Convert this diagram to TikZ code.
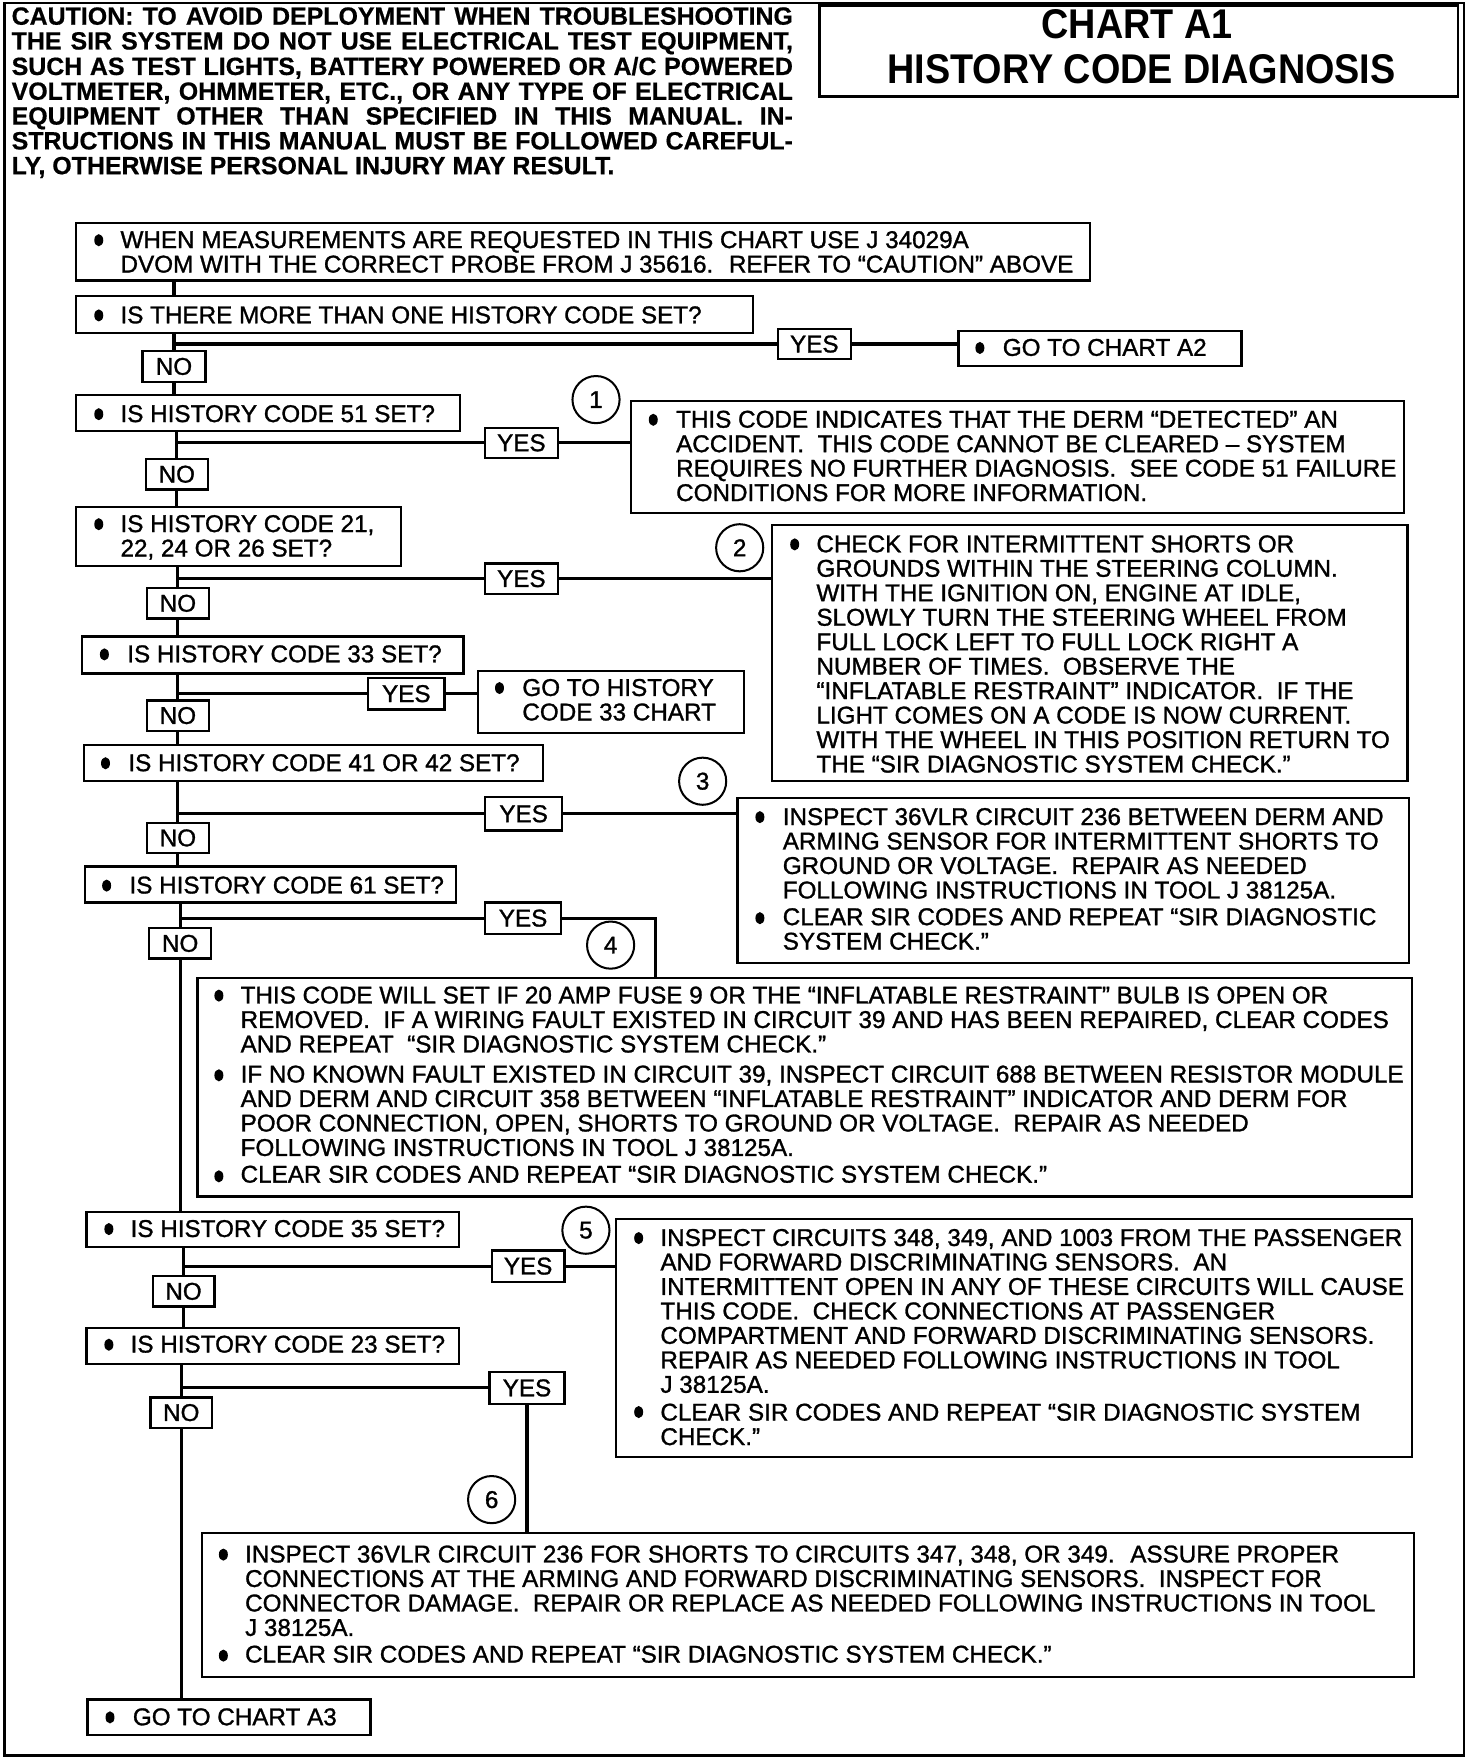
\documentclass[tikz,border=0pt]{standalone}
\usepackage{fontspec}
\usepackage{graphicx}
\setmainfont{Liberation Sans}
\newfontfamily\bodyf{Liberation Sans}[FakeBold=1.2]
\newfontfamily\cautf{Liberation Sans}[FakeBold=0.6]
\newfontfamily\titlef{Liberation Sans}[FakeStretch=0.91]
\newcommand\bodysize{\fontsize{10.8}{10.9}\selectfont}
\newcommand\tl[1]{\begin{tabular}[t]{@{}l@{}}#1\end{tabular}}
\newcommand\cl[1]{\makebox[348pt][s]{#1}}
\newcommand\bx[6]{\node[boxst, minimum width={(#4-#2)*0.5pt}, minimum height={(#5-#3)*0.5pt}] (#1) at ({(#2+#4)/2},{(#3+#5)/2}) {#6};}
\newcommand\bull[2]{\fill (#1,#2) ellipse [x radius=2pt, y radius=2.7pt];}
\tikzset{
  boxst/.style={draw, line width=1pt, fill=white, inner sep=0pt, rectangle, font=\bodyf\bodysize},
  conn/.style={line width=1.4pt},
  txt/.style={inner sep=0pt, anchor=base west, align=left, font=\bodyf\bodysize},
  numcirc/.style={circle, draw, line width=0.9pt, minimum size=21pt, inner sep=0pt, fill=white, font=\bodyf\bodysize},
  outerframe/.style={line width=1pt},
}
\begin{document}
\begin{tikzpicture}[x=0.5pt,y=-0.5pt]
\useasboundingbox (0,0) rectangle (1311,1568);
\draw[outerframe] (4,3) rectangle (1304,1564);

% caution
\node[inner sep=0pt, anchor=base west, align=left, font=\cautf\bfseries\fontsize{11.1}{11}\selectfont] (caution) at (10,22) {\tl{%
\cl{CAUTION: TO AVOID DEPLOYMENT WHEN TROUBLESHOOTING}\\
\cl{THE SIR SYSTEM DO NOT USE ELECTRICAL TEST EQUIPMENT,}\\
\cl{SUCH AS TEST LIGHTS, BATTERY POWERED OR A/C POWERED}\\
\cl{VOLTMETER, OHMMETER, ETC., OR ANY TYPE OF ELECTRICAL}\\
\cl{EQUIPMENT OTHER THAN SPECIFIED IN THIS MANUAL. IN-}\\
\cl{STRUCTIONS IN THIS MANUAL MUST BE FOLLOWED CAREFUL-}\\
LY, OTHERWISE PERSONAL INJURY MAY RESULT.}};

% title
\bx{titlebox}{730}{5}{1299}{86}{}
\node[inner sep=0pt, font=\titlef\bfseries\fontsize{18.5}{19}\selectfont] (title1) at (1013,22) {CHART A1};
\node[inner sep=0pt, font=\titlef\bfseries\fontsize{18.5}{19}\selectfont] (title2) at (1017,62) {HISTORY CODE DIAGNOSIS};

% boxes
\bx{b0}{68}{199}{971}{250}{}
\node[txt] (t0) at (107,221) {\tl{WHEN MEASUREMENTS ARE REQUESTED IN THIS CHART USE J 34029A\\DVOM WITH THE CORRECT PROBE FROM J 35616.~ REFER TO “CAUTION” ABOVE}};

\bx{q1}{68}{264}{671}{297}{}
\node[txt] (tq1) at (107,288) {IS THERE MORE THAN ONE HISTORY CODE SET?};
\bx{yes1}{693}{293}{758}{320}{YES}
\bx{a2}{854}{295}{1106}{326}{}
\node[txt] (ta2) at (893,317) {GO TO CHART A2};
\bx{no1}{127}{313}{183}{340}{NO}

\bx{q2}{68}{352}{410}{384}{}
\node[txt] (tq2) at (107,376) {IS HISTORY CODE 51 SET?};
\bx{yes2}{432}{381}{497}{408}{YES}
\node[numcirc] (c1) at (531,356) {1};
\bx{a51}{562}{357}{1251}{457}{}
\node[txt] (ta51) at (602,381) {\tl{THIS CODE INDICATES THAT THE DERM “DETECTED” AN\\
ACCIDENT.~ THIS CODE CANNOT BE CLEARED – SYSTEM\\
REQUIRES NO FURTHER DIAGNOSIS.~ SEE CODE 51 FAILURE\\
CONDITIONS FOR MORE INFORMATION.}};
\bx{no2}{130}{409}{185}{436}{NO}

\bx{q3}{68}{452}{357}{504}{}
\node[txt] (tq3) at (107,474) {\tl{IS HISTORY CODE 21,\\22, 24 OR 26 SET?}};
\bx{yes3}{432}{502}{497}{529}{YES}
\node[numcirc] (c2) at (659,488) {2};
\bx{a2x}{688}{468}{1254}{696}{}
\node[txt] (ta2x) at (727,492) {\tl{CHECK FOR INTERMITTENT SHORTS OR\\
GROUNDS WITHIN THE STEERING COLUMN.\\
WITH THE IGNITION ON, ENGINE AT IDLE,\\
SLOWLY TURN THE STEERING WHEEL FROM\\
FULL LOCK LEFT TO FULL LOCK RIGHT A\\
NUMBER OF TIMES.~ OBSERVE THE\\
“INFLATABLE RESTRAINT” INDICATOR.~ IF THE\\
LIGHT COMES ON A CODE IS NOW CURRENT.\\
WITH THE WHEEL IN THIS POSITION RETURN TO\\
THE “SIR DIAGNOSTIC SYSTEM CHECK.”}};
\bx{no3}{131}{524}{186}{551}{NO}

\bx{q4}{73}{567}{413}{600}{}
\node[txt] (tq4) at (113,590) {IS HISTORY CODE 33 SET?};
\bx{yes4}{328}{604}{396}{632}{YES}
\bx{a33}{426}{598}{663}{653}{}
\node[txt] (ta33) at (465,620) {\tl{GO TO HISTORY\\CODE 33 CHART}};
\bx{no4}{131}{624}{186}{651}{NO}

\bx{q5}{75}{664}{484}{696}{}
\node[txt] (tq5) at (114,687) {IS HISTORY CODE 41 OR 42 SET?};
\bx{yes5}{432}{710}{501}{740}{YES}
\node[numcirc] (c3) at (626,696) {3};
\bx{a41}{657}{711}{1255}{858}{}
\node[txt] (ta41) at (697,735) {\tl{INSPECT 36VLR CIRCUIT 236 BETWEEN DERM AND\\
ARMING SENSOR FOR INTERMITTENT SHORTS TO\\
GROUND OR VOLTAGE.~ REPAIR AS NEEDED\\
FOLLOWING INSTRUCTIONS IN TOOL J 38125A.\\[1pt]
CLEAR SIR CODES AND REPEAT “SIR DIAGNOSTIC\\
SYSTEM CHECK.”}};
\bx{no5}{131}{733}{186}{760}{NO}

\bx{q6}{76}{772}{406}{804}{}
\node[txt] (tq6) at (115,796) {IS HISTORY CODE 61 SET?};
\bx{yes6}{432}{804}{500}{832}{YES}
\coordinate (k6) at (584,818);
\node[numcirc] (c4) at (544,842) {4};
\bx{no6}{133}{827}{188}{854}{NO}
\bx{a61}{176}{871}{1258}{1066}{}
\node[txt] (ta61) at (214,894) {\tl{THIS CODE WILL SET IF 20 AMP FUSE 9 OR THE “INFLATABLE RESTRAINT” BULB IS OPEN OR\\
REMOVED.~ IF A WIRING FAULT EXISTED IN CIRCUIT 39 AND HAS BEEN REPAIRED, CLEAR CODES\\
AND REPEAT~ “SIR DIAGNOSTIC SYSTEM CHECK.”\\[2.5pt]
IF NO KNOWN FAULT EXISTED IN CIRCUIT 39, INSPECT CIRCUIT 688 BETWEEN RESISTOR MODULE\\
AND DERM AND CIRCUIT 358 BETWEEN “INFLATABLE RESTRAINT” INDICATOR AND DERM FOR\\
POOR CONNECTION, OPEN, SHORTS TO GROUND OR VOLTAGE.~ REPAIR AS NEEDED\\
FOLLOWING INSTRUCTIONS IN TOOL J 38125A.\\[1pt]
CLEAR SIR CODES AND REPEAT “SIR DIAGNOSTIC SYSTEM CHECK.”}};

\bx{q7}{77}{1080}{409}{1111}{}
\node[txt] (tq7) at (116,1102) {IS HISTORY CODE 35 SET?};
\bx{yes7}{438}{1114}{503}{1142}{YES}
\node[numcirc] (c5) at (522,1096) {5};
\bx{a35}{549}{1086}{1258}{1298}{}
\node[txt] (ta35) at (588,1110) {\tl{INSPECT CIRCUITS 348, 349, AND 1003 FROM THE PASSENGER\\
AND FORWARD DISCRIMINATING SENSORS.~ AN\\
INTERMITTENT OPEN IN ANY OF THESE CIRCUITS WILL CAUSE\\
THIS CODE.~ CHECK CONNECTIONS AT PASSENGER\\
COMPARTMENT AND FORWARD DISCRIMINATING SENSORS.\\
REPAIR AS NEEDED FOLLOWING INSTRUCTIONS IN TOOL\\
J 38125A.\\[1.5pt]
CLEAR SIR CODES AND REPEAT “SIR DIAGNOSTIC SYSTEM\\
CHECK.”}};
\bx{no7}{136}{1137}{191}{1164}{NO}

\bx{q8}{77}{1183}{409}{1215}{}
\node[txt] (tq8) at (116,1205) {IS HISTORY CODE 23 SET?};
\bx{yes8}{436}{1222}{503}{1251}{YES}
\node[numcirc] (c6) at (438,1336) {6};
\bx{no8}{134}{1245}{189}{1272}{NO}
\bx{a23}{180}{1366}{1260}{1494}{}
\node[txt] (ta23) at (218,1392) {\tl{INSPECT 36VLR CIRCUIT 236 FOR SHORTS TO CIRCUITS 347, 348, OR 349.~ ASSURE PROPER\\
CONNECTIONS AT THE ARMING AND FORWARD DISCRIMINATING SENSORS.~ INSPECT FOR\\
CONNECTOR DAMAGE.~ REPAIR OR REPLACE AS NEEDED FOLLOWING INSTRUCTIONS IN TOOL\\
J 38125A.\\[1pt]
CLEAR SIR CODES AND REPEAT “SIR DIAGNOSTIC SYSTEM CHECK.”}};

\bx{a3}{78}{1514}{330}{1546}{}
\node[txt] (ta3) at (118,1537) {GO TO CHART A3};

% bullets
\bull{88}{214}
\bull{88}{281}
\bull{873}{310}
\bull{88}{369}
\bull{582}{374}
\bull{88}{467}
\bull{708}{485}
\bull{93}{583}
\bull{445}{613}
\bull{94}{680}
\bull{677}{728}
\bull{677}{818}
\bull{95}{789}
\bull{195}{887}
\bull{195}{958}
\bull{195}{1048}
\bull{97}{1095}
\bull{569}{1103}
\bull{569}{1258}
\bull{97}{1198}
\bull{199}{1385}
\bull{199}{1475}
\bull{98}{1530}

% connectors
\draw[conn] (b0.south -| no1) -- (q1.north -| no1);
\draw[conn] (q1.south -| no1) -- (no1.north);
\draw[conn] (no1 |- yes1) -- (yes1.west);
\draw[conn] (yes1.east) -- (a2.west |- yes1);
\draw[conn] (no1.south) -- (q2.north -| no1);

\draw[conn] (q2.south -| no2) -- (no2.north);
\draw[conn] (no2 |- yes2) -- (yes2.west);
\draw[conn] (yes2.east) -- (a51.west |- yes2);
\draw[conn] (no2.south) -- (q3.north -| no2);

\draw[conn] (q3.south -| no3) -- (no3.north);
\draw[conn] (no3 |- yes3) -- (yes3.west);
\draw[conn] (yes3.east) -- (a2x.west |- yes3);
\draw[conn] (no3.south) -- (q4.north -| no3);

\draw[conn] (q4.south -| no4) -- (no4.north);
\draw[conn] (no4 |- yes4) -- (yes4.west);
\draw[conn] (yes4.east) -- (a33.west |- yes4);
\draw[conn] (no4.south) -- (q5.north -| no4);

\draw[conn] (q5.south -| no5) -- (no5.north);
\draw[conn] (no5 |- yes5) -- (yes5.west);
\draw[conn] (yes5.east) -- (a41.west |- yes5);
\draw[conn] (no5.south) -- (q6.north -| no5);

\draw[conn] (q6.south -| no6) -- (no6.north);
\draw[conn] (no6 |- yes6) -- (yes6.west);
\draw[conn] (yes6.east) -- (k6) -- (k6 |- a61.north);
\draw[conn] (no6.south) -- (q7.north -| no6);

\draw[conn] (q7.south -| no7) -- (no7.north);
\draw[conn] (no7 |- yes7) -- (yes7.west);
\draw[conn] (yes7.east) -- (a35.west |- yes7);
\draw[conn] (no7.south) -- (q8.north -| no7);

\draw[conn] (q8.south -| no8) -- (no8.north);
\draw[conn] (no8 |- yes8) -- (yes8.west);
\draw[conn] (yes8.south) -- (yes8.south |- a23.north);
\draw[conn] (no8.south) -- (a3.north -| no8);
\end{tikzpicture}
\end{document}
